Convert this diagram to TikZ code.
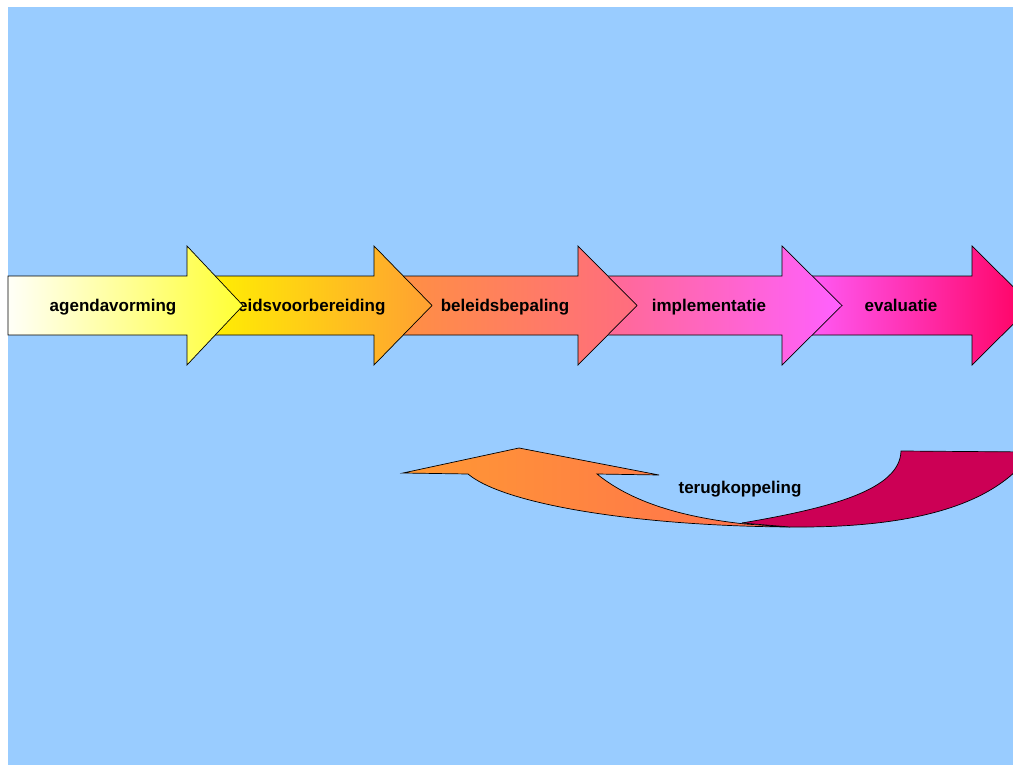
\documentclass[tikz,border=0pt]{standalone}
\usepackage{fontspec}
\setmainfont{Liberation Sans}
\begin{document}
\begin{tikzpicture}[x=1pt,y=-1pt,
  lbl/.style={anchor=base,inner sep=0pt,font=\fontsize{17}{20}\selectfont\bfseries},
  outline/.style={draw=black,line width=0.7pt,line join=miter}]
\useasboundingbox (0,0) rectangle (1013,765);
\fill[white] (0,0) rectangle (1013,765);
\fill[fill={rgb,255:red,153;green,204;blue,255}] (8,7) rectangle (1013,765);
\clip (0,0) rectangle (1013,765);
% block arrow: #1 shaft start, #2 head base, #3 tip, #4 left colour, #5 right colour
\newcommand\blockarrowdraw[5]{%
  \shade[outline,left color=#4,right color=#5]
    (#1,276) -- (#2,276) -- (#2,246) -- (#3,305.5) -- (#2,365) -- (#2,335) -- (#1,335) -- cycle;}
\definecolor{c1a}{RGB}{255,255,248}
\definecolor{c1b}{RGB}{255,255,51}
\definecolor{c2a}{RGB}{255,242,0}
\definecolor{c2b}{RGB}{255,160,50}
\definecolor{c3a}{RGB}{255,145,64}
\definecolor{c3b}{RGB}{255,108,128}
\definecolor{c4a}{RGB}{255,106,140}
\definecolor{c4b}{RGB}{255,96,255}
\definecolor{c5a}{RGB}{255,96,255}
\definecolor{c5b}{RGB}{255,0,96}
\definecolor{fbo1}{RGB}{255,153,51}
\definecolor{fbo2}{RGB}{255,110,80}
\definecolor{crim}{RGB}{204,0,85}
% arrows, back to front
\blockarrowdraw{795}{972}{1032}{c5a}{c5b}
\node[lbl] (evaluatie) at (901,311) {evaluatie};
\blockarrowdraw{590}{782}{842}{c4a}{c4b}
\node[lbl] (implementatie) at (709,311) {implementatie};
\blockarrowdraw{390}{578}{637}{c3a}{c3b}
\node[lbl] (bepaling) at (505,311) {beleidsbepaling};
\blockarrowdraw{200}{374}{432}{c2a}{c2b}
\node[lbl] (voorbereiding) at (299.5,311) {beleidsvoorbereiding};
\blockarrowdraw{8}{187}{243}{c1a}{c1b}
\node[lbl] (agenda) at (113,311) {agendavorming};
% feedback arrow
\shade[outline,left color=fbo1,right color=fbo2]
  (403,473) -- (519,448) -- (659,475) -- (597,474)
  .. controls (635,505) and (690,518) .. (745,524)
  -- (790,527)
  .. controls (640,526) and (505,505) .. (468,474) -- cycle;
\fill[crim] (742,523) .. controls (830,508) and (900,490) .. (901,451)
  -- (1030,452) -- (1030,455)
  .. controls (990,510) and (900,528) .. (790,527) -- cycle;
\draw[outline] (742,523) .. controls (830,508) and (900,490) .. (901,451)
  -- (1030,452);
\draw[outline] (1030,455) .. controls (990,510) and (900,528) .. (790,527) -- (742,523);
\node[lbl] (terug) at (740,493) {terugkoppeling};
\end{tikzpicture}
\end{document}
